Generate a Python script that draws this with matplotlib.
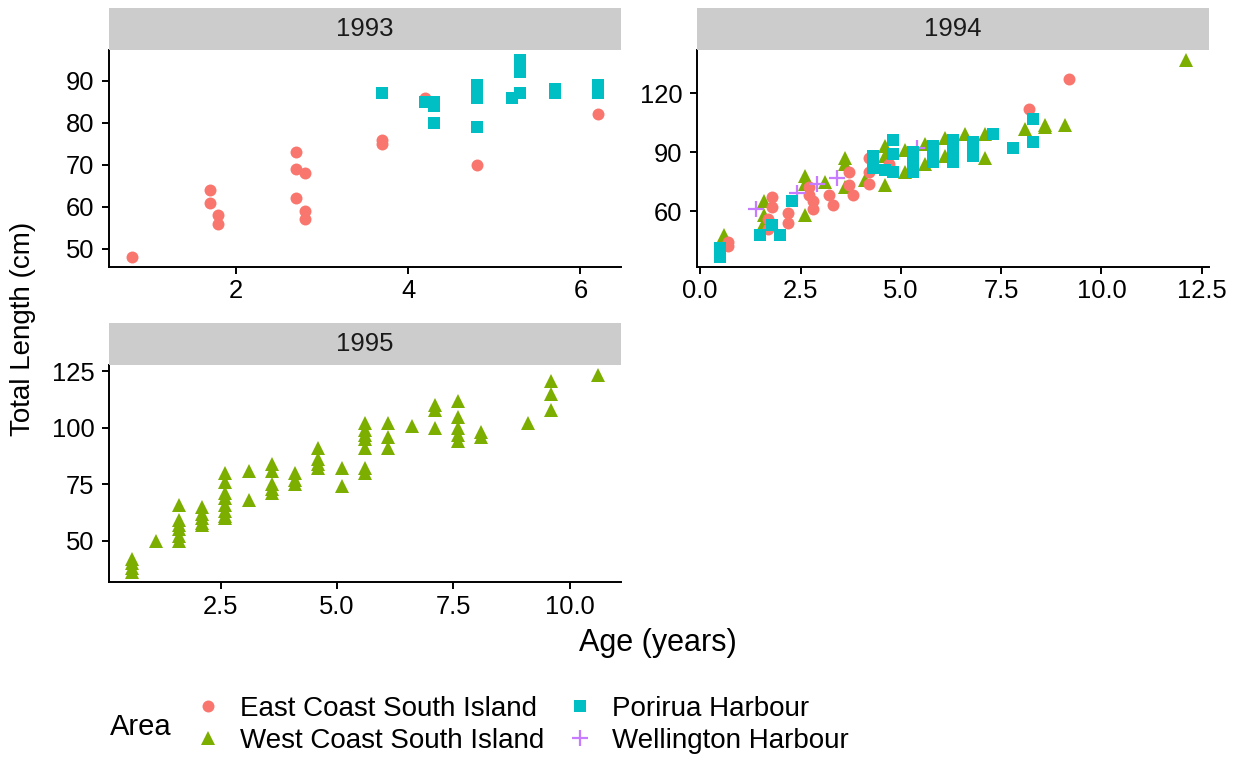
import matplotlib
matplotlib.use("Agg")
import matplotlib.pyplot as plt
from matplotlib.lines import Line2D
from matplotlib.ticker import MultipleLocator, FormatStrFormatter

plt.rcParams['font.family'] = ['Liberation Sans', 'DejaVu Sans']

# ---- data ----
areas = ["East Coast South Island", "West Coast South Island",
         "Porirua Harbour", "Wellington Harbour"]

# 1993
age_93_east = [0.8, 1.7, 1.7, 1.8, 1.8, 2.7, 2.7, 2.8, 2.7, 2.8, 2.8, 3.7, 3.7, 4.2, 4.8, 6.2]
len_93_east = [48, 64, 61, 58, 56, 73, 69, 68, 62, 59, 57, 76, 75, 86, 70, 82]
age_93_pori = [3.7, 4.2, 4.3, 4.3, 4.3, 4.8, 4.8, 4.8, 4.8, 5.2, 5.3, 5.3, 5.3, 5.3, 5.7, 5.7, 6.2, 6.2]
len_93_pori = [87, 85, 85, 84, 80, 89, 88, 86, 79, 86, 87, 95, 94, 92, 88, 87, 89, 87]

# 1994
age_94_east = [0.7, 0.7, 1.8, 1.8, 1.7, 1.7, 2.2, 2.2, 2.7, 2.7, 2.8, 2.8, 3.2, 3.3,
               3.7, 3.7, 3.8, 4.2, 4.2, 4.2, 4.7, 8.2, 9.2]
len_94_east = [42, 44, 67, 62, 56, 51, 59, 54, 72, 68, 65, 61, 68, 63,
               80, 73, 68, 87, 80, 74, 84, 112, 127]
age_94_west = [0.6, 1.6, 1.6, 1.6, 2.6, 2.6, 2.6, 3.1, 3.6, 3.6, 3.6, 4.1, 4.6, 4.6, 4.6,
               5.1, 5.1, 5.6, 5.6, 6.1, 6.1, 6.6, 7.1, 7.1, 8.1, 8.6, 8.6, 9.1, 12.1]
len_94_west = [48, 65, 58, 54, 78, 74, 58, 75, 87, 84, 72, 76, 93, 88, 73,
               91, 80, 94, 84, 97, 88, 99, 99, 87, 102, 104, 103, 104, 137]
age_94_pori = [0.5, 0.5, 0.5, 1.5, 1.8, 2.0, 2.3, 4.3, 4.3, 4.3, 4.6, 4.8, 4.8, 4.8,
               5.3, 5.3, 5.3, 5.3, 5.8, 5.8, 5.8, 6.3, 6.3, 6.3, 6.3, 6.8, 6.8, 6.8,
               7.3, 7.8, 8.3, 8.3]
len_94_pori = [41, 38, 36.5, 48, 53, 48, 65, 88, 85, 82, 81, 80, 96, 89,
               90, 87, 84, 80, 93, 89, 85, 96, 92, 88, 85, 95, 91, 88,
               99, 92, 107, 95]
age_94_well = [1.4, 2.4, 2.9, 3.4, 5.4]
len_94_well = [61, 69, 74, 77, 92]

# 1995
age_95_west = [0.6, 0.6, 0.6, 0.6, 1.1,
               1.6, 1.6, 1.6, 1.6, 1.6, 1.6,
               2.1, 2.1, 2.1, 2.1, 2.1,
               2.6, 2.6, 2.6, 2.6, 2.6, 2.6, 2.6, 2.6,
               3.1, 3.1, 3.6, 3.6, 3.6, 3.6, 3.6,
               4.1, 4.1, 4.1, 4.6, 4.6, 4.6, 4.6, 5.1, 5.1,
               5.6, 5.6, 5.6, 5.6, 5.6, 5.6, 5.6,
               6.1, 6.1, 6.1, 6.6, 7.1, 7.1, 7.1,
               7.6, 7.6, 7.6, 7.6, 7.6, 8.1, 8.1, 9.1, 9.6, 9.6, 9.6, 10.6]
len_95_west = [42, 40, 38, 36, 50,
               66, 59, 57, 55, 52, 50,
               65, 62, 60, 58, 57,
               80, 76, 71, 69, 66, 63, 61, 60,
               81, 68, 84, 81, 75, 73, 71,
               80, 77, 75, 91, 86, 84, 82, 82, 74,
               102, 99, 97, 95, 91, 82, 80,
               102, 96, 91, 101, 110, 108, 100,
               112, 105, 100, 97, 94, 98, 96, 102, 121, 115, 108, 123.5]

colors = {"east": "#F8766D", "west": "#7CAE00", "pori": "#00BFC4", "well": "#C77CFF"}

W, H = 1237, 760
fig = plt.figure(figsize=(W / 100, H / 100), dpi=100)


def box(l, t, r, b):
    return [l / W, 1 - b / H, (r - l) / W, (b - t) / H]


def panel(l, t, r, b, title):
    ax = fig.add_axes(box(l, t, r, b))
    strip = fig.add_axes(box(l, t - 42, r, t))
    strip.set_facecolor("#CCCCCC")
    strip.set_xticks([]); strip.set_yticks([])
    for s in strip.spines.values():
        s.set_visible(False)
    strip.text(0.5, 0.5, title, ha="center", va="center", fontsize=18.5, color="#1A1A1A")
    for s in ["top", "right"]:
        ax.spines[s].set_visible(False)
    for s in ["left", "bottom"]:
        ax.spines[s].set_linewidth(1.4)
    ax.tick_params(direction="out", length=5, width=1.4, labelsize=18.4, colors="black")
    ax.tick_params(axis="x", pad=4)
    ax.tick_params(axis="y", pad=5.5)
    return ax


def pts(ax, x, y, key):
    if key == "east":
        ax.plot(x, y, "o", ms=8.6, color=colors[key], mew=0, ls="none")
    elif key == "west":
        ax.plot(x, y, "^", ms=10.5, color=colors[key], mew=0, ls="none")
    elif key == "pori":
        ax.plot(x, y, "s", ms=9.0, color=colors[key], mew=0, ls="none")
    else:
        ax.plot(x, y, "+", ms=11, color=colors[key], mew=1.6, ls="none")


ax1 = panel(109, 50, 621, 267, "1993")
pts(ax1, age_93_east, len_93_east, "east")
pts(ax1, age_93_pori, len_93_pori, "pori")
ax1.xaxis.set_major_locator(MultipleLocator(2))
ax1.yaxis.set_major_locator(MultipleLocator(10))

ax2 = panel(697, 50, 1209, 267, "1994")
pts(ax2, age_94_west, len_94_west, "west")
pts(ax2, age_94_east, len_94_east, "east")
pts(ax2, age_94_well, len_94_well, "well")
pts(ax2, age_94_pori, len_94_pori, "pori")
ax2.xaxis.set_major_locator(MultipleLocator(2.5))
ax2.xaxis.set_major_formatter(FormatStrFormatter("%.1f"))
ax2.yaxis.set_major_locator(MultipleLocator(30))

ax3 = panel(109, 365, 621, 582, "1995")
pts(ax3, age_95_west, len_95_west, "west")
ax3.xaxis.set_major_locator(MultipleLocator(2.5))
ax3.xaxis.set_major_formatter(FormatStrFormatter("%.1f"))
ax3.yaxis.set_major_locator(MultipleLocator(25))

for ax in (ax1, ax2, ax3):
    ax.margins(0.05)

fig.text(658 / W, 1 - 643 / H, "Age (years)", ha="center", va="center", fontsize=22)
fig.text(23 / W, 1 - 329 / H, "Total Length (cm)", ha="center", va="center",
         rotation=90, fontsize=20)

# legend
handles = [
    Line2D([], [], marker="o", ls="none", ms=8.6, mew=0, color=colors["east"]),
    Line2D([], [], marker="^", ls="none", ms=10.5, mew=0, color=colors["west"]),
    Line2D([], [], marker="s", ls="none", ms=9.0, mew=0, color=colors["pori"]),
    Line2D([], [], marker="+", ls="none", ms=11, mew=1.6, color=colors["well"]),
]
fig.text(110 / W, 1 - 727 / H, "Area", ha="left", va="center", fontsize=21)
fig.legend(handles, areas, ncol=2, loc="center left",
           bbox_to_anchor=(194 / W, 1 - 725 / H), frameon=False,
           fontsize=20, handlelength=1.0, handletextpad=0.65,
           columnspacing=0.8, labelspacing=0.21, borderpad=0, borderaxespad=0)

fig.savefig("out.png", dpi=100, facecolor="white")
